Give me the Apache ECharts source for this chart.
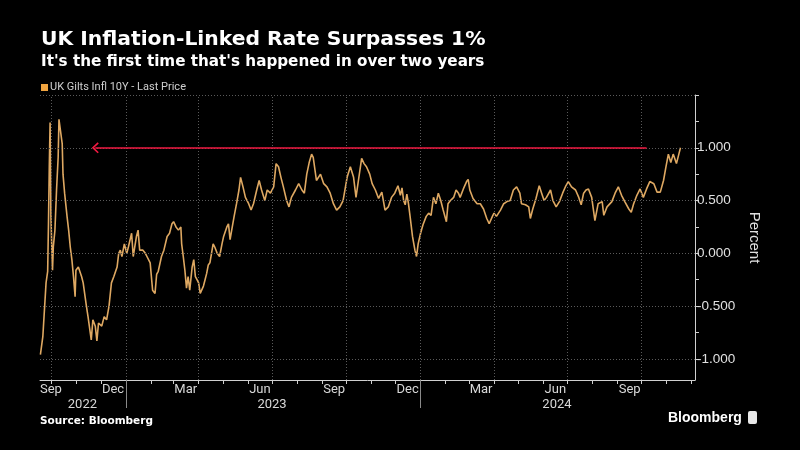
<!DOCTYPE html>
<html><head><meta charset="utf-8">
<script src="https://cdn.jsdelivr.net/npm/echarts@6/dist/echarts.min.js"></script>
<style>html,body{margin:0;background:#000}#c{width:800px;height:450px}</style>
</head><body><div id="c"></div>
<script>
const titleText = 'UK Inflation-Linked Rate Surpasses 1%';
const subtitleText = "It's the first time that's happened in over two years";
const seriesName = 'UK Gilts Infl 10Y - Last Price';
const sourceText = 'Source: Bloomberg';

const dates = [
'2022-09-17','2022-09-20','2022-09-24','2022-09-26','2022-09-27','2022-09-28','2022-09-29','2022-09-30',
'2022-10-02','2022-10-03','2022-10-05','2022-10-07','2022-10-09','2022-10-10','2022-10-12','2022-10-14',
'2022-10-15','2022-10-17','2022-10-20','2022-10-22','2022-10-24','2022-10-26','2022-10-28','2022-10-30',
'2022-10-31','2022-11-03','2022-11-07','2022-11-09','2022-11-13','2022-11-15','2022-11-19','2022-11-21',
'2022-11-24','2022-11-26','2022-11-28','2022-12-02','2022-12-05','2022-12-08','2022-12-11','2022-12-14',
'2022-12-17','2022-12-21','2022-12-23','2022-12-25','2022-12-27','2022-12-30','2023-01-02','2023-01-04',
'2023-01-08','2023-01-10','2023-01-14','2023-01-16','2023-01-18','2023-01-22','2023-01-25','2023-01-27',
'2023-01-31','2023-02-03','2023-02-06','2023-02-08','2023-02-10','2023-02-14','2023-02-17','2023-02-21',
'2023-02-24','2023-02-27','2023-03-01','2023-03-04','2023-03-07','2023-03-10','2023-03-11','2023-03-13',
'2023-03-15','2023-03-17','2023-03-19','2023-03-21','2023-03-24','2023-03-26','2023-03-28','2023-03-30',
'2023-04-01','2023-04-03','2023-04-05','2023-04-07','2023-04-09','2023-04-11','2023-04-13','2023-04-15',
'2023-04-17','2023-04-19','2023-04-21','2023-04-24','2023-04-27','2023-04-30','2023-05-02','2023-05-06',
'2023-05-08','2023-05-10','2023-05-12','2023-05-15','2023-05-18','2023-05-21','2023-05-23','2023-05-26',
'2023-05-29','2023-06-02','2023-06-05','2023-06-08','2023-06-12','2023-06-15','2023-06-18','2023-06-22',
'2023-06-25','2023-06-29','2023-07-03','2023-07-06','2023-07-09','2023-07-12','2023-07-15','2023-07-19',
'2023-07-22','2023-07-25','2023-07-30','2023-08-03','2023-08-07','2023-08-10','2023-08-13','2023-08-16',
'2023-08-19','2023-08-21','2023-08-25','2023-08-30','2023-09-03','2023-09-07','2023-09-11','2023-09-15',
'2023-09-19','2023-09-23','2023-09-27','2023-10-02','2023-10-06','2023-10-10','2023-10-13','2023-10-16',
'2023-10-20','2023-10-23','2023-10-26','2023-10-30','2023-11-02','2023-11-06','2023-11-10','2023-11-14',
'2023-11-18','2023-11-22','2023-11-26','2023-11-30','2023-12-04','2023-12-07','2023-12-09','2023-12-11',
'2023-12-13','2023-12-15','2023-12-17','2023-12-19','2023-12-22','2023-12-25','2023-12-27','2023-12-29',
'2024-01-01','2024-01-04','2024-01-08','2024-01-11','2024-01-14','2024-01-17','2024-01-20','2024-01-23',
'2024-01-26','2024-01-29','2024-02-02','2024-02-04','2024-02-07','2024-02-11','2024-02-14','2024-02-17',
'2024-02-19','2024-02-23','2024-02-27','2024-02-29','2024-03-02','2024-03-06','2024-03-11','2024-03-15',
'2024-03-19','2024-03-23','2024-03-26','2024-03-30','2024-04-01','2024-04-04','2024-04-09','2024-04-13',
'2024-04-17','2024-04-21','2024-04-25','2024-04-29','2024-05-03','2024-05-05','2024-05-10','2024-05-14',
'2024-05-16','2024-05-19','2024-05-23','2024-05-27','2024-05-30','2024-06-02','2024-06-05','2024-06-10',
'2024-06-13','2024-06-17','2024-06-21','2024-06-25','2024-06-29','2024-07-02','2024-07-06','2024-07-11',
'2024-07-15','2024-07-18','2024-07-21','2024-07-24','2024-07-27','2024-07-31','2024-08-04','2024-08-08',
'2024-08-13','2024-08-15','2024-08-19','2024-08-25','2024-08-29','2024-09-02','2024-09-06','2024-09-10',
'2024-09-15','2024-09-18','2024-09-21','2024-09-25','2024-09-29','2024-10-03','2024-10-07','2024-10-11',
'2024-10-16','2024-10-20','2024-10-24','2024-10-28','2024-10-31','2024-11-03','2024-11-06','2024-11-09',
'2024-11-13','2024-11-16','2024-11-18'
];
const values = [
-0.96,-0.79,-0.28,-0.17,0.28,0.82,1.24,0.35,
-0.16,0.06,0.22,0.60,0.91,1.27,1.27,1.04,
0.75,0.57,0.35,0.22,0.06,-0.06,-0.22,-0.41,
-0.16,-0.13,-0.22,-0.28,-0.50,-0.60,-0.82,-0.63,
-0.69,-0.83,-0.66,-0.69,-0.60,-0.63,-0.50,-0.28,
-0.22,-0.13,0.00,0.03,-0.03,0.09,0.00,0.06,
0.19,-0.03,0.16,0.22,0.03,0.03,0.00,-0.03,
-0.09,-0.35,-0.38,-0.20,-0.17,-0.03,0.03,0.16,
0.19,0.28,0.30,0.25,0.22,0.25,0.09,-0.03,
-0.16,-0.33,-0.22,-0.35,-0.13,-0.06,-0.22,-0.25,
-0.28,-0.38,-0.38,-0.31,-0.25,-0.19,-0.11,-0.09,
0.00,0.09,0.06,0.00,-0.03,0.09,0.16,0.25,
0.28,0.13,0.22,0.35,0.47,0.60,0.72,0.63,
0.53,0.47,0.41,0.47,0.60,0.69,0.60,0.50,
0.60,0.57,0.63,0.85,0.82,0.72,0.63,0.50,
0.44,0.53,0.60,0.66,0.60,0.57,0.75,0.86,
0.94,0.91,0.69,0.75,0.66,0.63,0.57,0.47,
0.41,0.44,0.50,0.72,0.82,0.72,0.53,0.69,
0.90,0.85,0.82,0.75,0.66,0.60,0.52,0.58,
0.41,0.44,0.53,0.57,0.64,0.55,0.62,0.50,
0.46,0.56,0.47,0.35,0.16,0.03,-0.03,0.09,
0.19,0.27,0.35,0.38,0.36,0.53,0.47,0.57,
0.50,0.41,0.30,0.47,0.50,0.53,0.60,0.57,
0.53,0.61,0.68,0.70,0.60,0.52,0.47,0.47,
0.42,0.33,0.28,0.35,0.38,0.35,0.41,0.47,
0.49,0.50,0.60,0.63,0.57,0.47,0.46,0.44,
0.33,0.42,0.52,0.64,0.57,0.50,0.53,0.60,
0.50,0.44,0.49,0.57,0.64,0.68,0.63,0.60,
0.53,0.46,0.57,0.60,0.61,0.53,0.31,0.47,
0.49,0.36,0.44,0.49,0.57,0.63,0.55,0.49,
0.42,0.39,0.47,0.55,0.61,0.53,0.61,0.68,
0.66,0.58,0.58,0.69,0.82,0.94,0.86,0.94,
0.85,0.94,1.00
];

const xMin = '2022-09-16 12:00:00';
const xMax = '2024-12-06';
const monthTickDates = ['2022-10-01','2022-11-01','2022-12-01','2023-01-01','2023-02-01','2023-03-01','2023-04-01','2023-05-01','2023-06-01','2023-07-01','2023-08-01','2023-09-01','2023-10-01','2023-11-01','2023-12-01','2024-01-01','2024-02-01','2024-03-01','2024-04-01','2024-05-01','2024-06-01','2024-07-01','2024-08-01','2024-09-01','2024-10-01','2024-11-01','2024-12-01'];
const quarterGridDates = ['2022-10-01','2023-01-01','2023-04-01','2023-07-01','2023-10-01','2024-01-01','2024-04-01','2024-07-01','2024-10-01'];
const monthLabelDates = ['2022-09-16 12:00:00','2022-12-16','2023-03-16','2023-06-16','2023-09-16','2023-12-16','2024-03-16','2024-06-16','2024-09-16'];
const monthLabels = ['Sep','Dec','Mar','Jun','Sep','Dec','Mar','Jun','Sep'];
const yearLabelDates = ['2022-11-08','2023-07-01','2024-06-18'];
const yearLabels = ['2022','2023','2024'];
const yearSeparatorDates = ['2023-01-01','2024-01-01'];
const yMin = -1.2, yMax = 1.5;
const yTickValues = [-1,-0.75,-0.5,-0.25,0,0.25,0.5,0.75,1,1.25,1.5];
const yLabelValues = [-1,-0.5,0,0.5,1];
const yGridValues = [-1,-0.5,0,0.5,1,1.5];
const thresholdValue = 1;
const arrowStart = '2022-11-24', arrowEnd = '2024-10-07';

const T = s => +echarts.time.parse(s);
const near = (v, arr) => arr.findIndex(d => Math.abs(T(d) - v) < 36e5 * 12);

const chart = echarts.init(document.getElementById('c'));
const gridStyle = {color:'#5a5a5a', type:[1,2], width:1};
const tickFont = 'Liberation Sans Narrow, Roboto, sans-serif';
chart.setOption({
  backgroundColor:'#000',
  animation:false,
  title:{
    text:titleText, subtext:subtitleText, left:36, top:25, itemGap:5,
    textStyle:{color:'#fff', fontFamily:'DejaVu Sans', fontWeight:'bold', fontSize:20.3},
    subtextStyle:{color:'#fff', fontFamily:'DejaVu Sans', fontWeight:'bold', fontSize:15.2}
  },
  legend:{
    data:[seriesName], left:36, top:77, icon:'rect', itemWidth:7, itemHeight:7, itemGap:4,
    textStyle:{color:'#cfcfcf', fontFamily:tickFont, fontSize:11, padding:[0,0,0,-3]}
  },
  grid:{left:40, right:105, top:95, bottom:70},
  xAxis:[{
    type:'value', min:T(xMin), max:T(xMax), scale:true,
    axisLine:{onZero:false, lineStyle:{color:'#d0d0d0', width:1}},
    axisTick:{show:true, customValues:monthTickDates.map(T), length:4, lineStyle:{color:'#d0d0d0'}},
    axisLabel:{customValues:monthLabelDates.map(T), alignMinLabel:'left', margin:3,
      color:'#d8d8d8', fontFamily:tickFont, fontSize:13,
      formatter:v => { const i = near(v, monthLabelDates); return i >= 0 ? monthLabels[i] : ''; }},
    splitLine:{show:false}
  },{
    type:'value', min:T(xMin), max:T(xMax), scale:true, position:'bottom',
    axisLine:{show:false, onZero:false},
    axisTick:{show:true, customValues:yearSeparatorDates.map(T), length:28, lineStyle:{color:'#8a8a8a'}},
    axisLabel:{customValues:yearLabelDates.map(T), margin:18,
      color:'#d8d8d8', fontFamily:tickFont, fontSize:13,
      formatter:v => { const i = near(v, yearLabelDates); return i >= 0 ? yearLabels[i] : ''; }},
    splitLine:{show:false}
  }],
  yAxis:{
    type:'value', position:'right', min:yMin, max:yMax,
    name:'Percent', nameLocation:'middle', nameGap:43, nameRotate:-90,
    nameTextStyle:{color:'#e0e0e0', fontFamily:'Liberation Sans, sans-serif', fontSize:15},
    axisLine:{show:true, onZero:false, lineStyle:{color:'#d0d0d0'}},
    axisTick:{show:true, customValues:yTickValues, length:4, lineStyle:{color:'#d0d0d0'}},
    axisLabel:{customValues:yLabelValues, margin:2, color:'#e0e0e0',
      fontFamily:'Liberation Sans, sans-serif', fontSize:13.5, formatter:v => v.toFixed(3)},
    splitLine:{show:false}
  },
  series:[{
    name:'grid', type:'line', data:[], silent:true, z:1,
    markLine:{silent:true, symbol:'none', label:{show:false}, lineStyle:gridStyle, animation:false,
      data:[...quarterGridDates.map(d => ({xAxis:T(d)})), ...yGridValues.map(v => ({yAxis:v}))]}
  },{
    name:seriesName, type:'line', showSymbol:false, z:3,
    data:dates.map((d,i) => [T(d), values[i]]),
    lineStyle:{color:'#dea862', width:1.6}, itemStyle:{color:'#f0a440'},
    markLine:{silent:true, label:{show:false}, animation:false,
      lineStyle:{color:'#f01a42', width:1.7, type:'solid'},
      data:[[{coord:[T(arrowStart), thresholdValue], symbol:'path://M0,10 L10,0 L20,10 L18,12 L10,4 L2,12 Z', symbolSize:[11,7]},
             {coord:[T(arrowEnd), thresholdValue], symbol:'none'}]]}
  }],
  graphic:[
    {type:'text', left:40, top:416, style:{text:sourceText, fill:'#fff', font:'bold 10.5px "DejaVu Sans"'}},
    {type:'text', left:668, top:411, style:{text:'Bloomberg', fill:'#fff', font:'bold 14px "Liberation Sans"'}},
    {type:'rect', left:748, top:411, shape:{width:9, height:13, r:2}, style:{fill:'#e8e8e8'}}
  ]
});
</script></body></html>
